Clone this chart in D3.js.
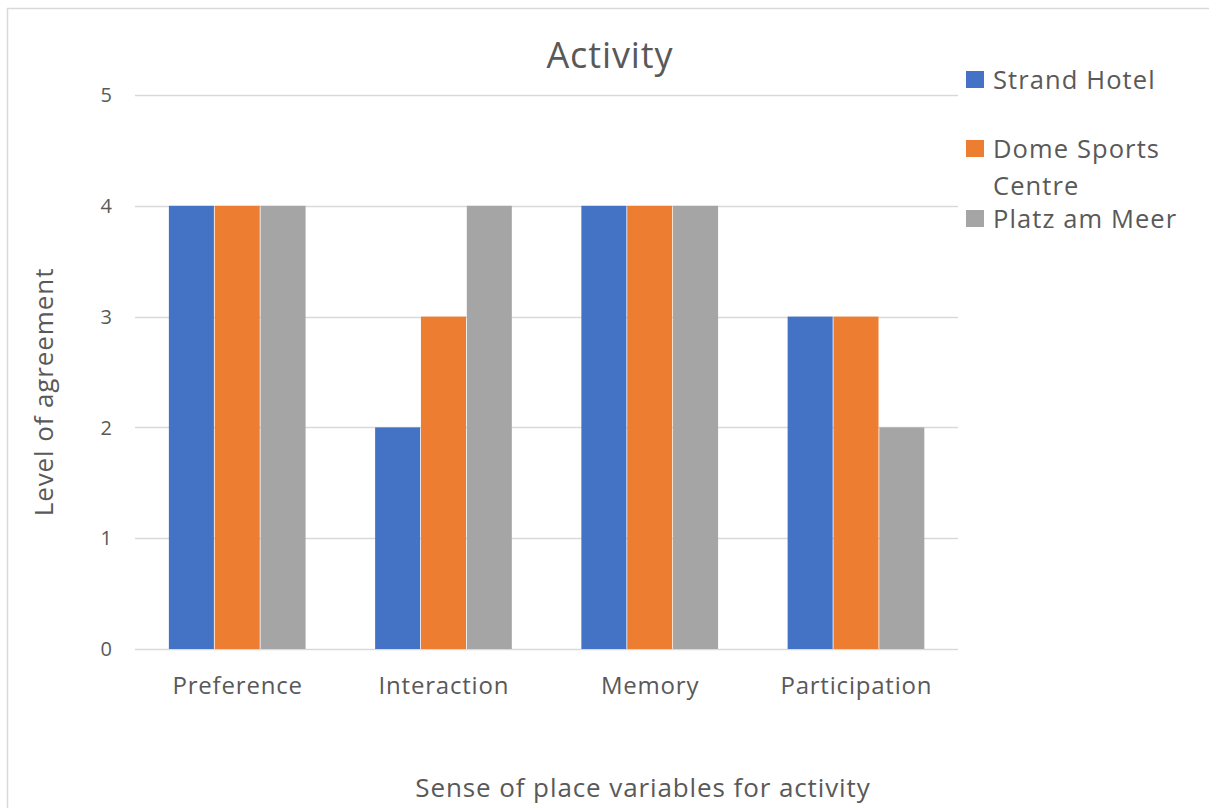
<!DOCTYPE html>
<html>
<head>
<meta charset="utf-8">
<script src="https://cdn.jsdelivr.net/npm/d3@7"></script>
<style>
  html, body { margin: 0; padding: 0; background: #fff; }
  svg { display: block; font-family: "Open Sans", "Noto Sans", sans-serif; }
</style>
</head>
<body>
<svg id="chart" width="1209" height="808"></svg>
<script>
// Survey results: level of agreement per sense-of-place variable
const categories = ["Preference", "Interaction", "Memory", "Participation"];
const seriesNames = ["Strand Hotel", "Dome Sports Centre", "Platz am Meer"];
const strandHotel = [4, 2, 4, 3];
const domeSportsCentre = [4, 3, 4, 3];
const platzAmMeer = [4, 4, 4, 2];
const yTicks = [0, 1, 2, 3, 4, 5];
const colors = ["#4472c4", "#ed7d31", "#a5a5a5"];

const seriesValues = [strandHotel, domeSportsCentre, platzAmMeer];

const svg = d3.select("#chart");
const textColor = "#595959";

// outer chart frame
svg.append("rect")
  .attr("x", 7.5).attr("y", 8.5)
  .attr("width", 1220).attr("height", 820)
  .attr("fill", "#fff").attr("stroke", "#d9d9d9").attr("stroke-width", 1.5);

const plot = { left: 134.5, right: 959.5, top: 95, bottom: 649 };

const x0 = d3.scaleBand().domain(categories).range([plot.left, plot.right]).paddingInner(0).paddingOuter(0);
const groupInner = x0.bandwidth() * 3 / 4.5; // bars occupy 3 widths, gap 1.5 widths
const x1 = d3.scaleBand().domain(d3.range(seriesNames.length)).range([0, groupInner]);
const y = d3.scaleLinear().domain([0, 5]).range([plot.bottom, plot.top]);

// gridlines
svg.append("g").selectAll("line").data(yTicks).join("line")
  .attr("x1", 135).attr("x2", 958)
  .attr("y1", d => Math.round(y(d)) + 0.5).attr("y2", d => Math.round(y(d)) + 0.5)
  .attr("stroke", "#d9d9d9").attr("stroke-width", 1.3);

// y tick labels
svg.append("g").selectAll("text").data(yTicks).join("text")
  .attr("x", 112).attr("y", d => y(d))
  .attr("dy", "0.36em")
  .attr("text-anchor", "end")
  .attr("font-size", 20).attr("fill", textColor)
  .text(d => d);

// bars
const groups = svg.append("g").selectAll("g").data(categories).join("g")
  .attr("transform", c => `translate(${x0(c) + (x0.bandwidth() - groupInner) / 2},0)`);

groups.selectAll("rect")
  .data((c, ci) => seriesValues.map((vals, si) => ({ si, v: vals[ci] })))
  .join("rect")
  .attr("x", d => x1(d.si))
  .attr("width", x1.bandwidth() - 0.8)
  .attr("y", d => y(d.v))
  .attr("height", d => y(0) - y(d.v))
  .attr("fill", d => colors[d.si]);

// category labels
svg.append("g").selectAll("text").data(categories).join("text")
  .attr("x", c => x0(c) + x0.bandwidth() / 2)
  .attr("y", 694)
  .attr("text-anchor", "middle")
  .attr("font-size", 24).attr("letter-spacing", 0.8).attr("fill", textColor)
  .text(c => c);

// title
svg.append("text")
  .attr("x", 610).attr("y", 68)
  .attr("text-anchor", "middle")
  .attr("font-size", 36).attr("letter-spacing", 0.9).attr("fill", textColor)
  .text("Activity");

// axis titles
svg.append("text")
  .attr("transform", "translate(53,392) rotate(-90)")
  .attr("text-anchor", "middle")
  .attr("font-size", 26).attr("letter-spacing", 0.9).attr("fill", textColor)
  .text("Level of agreement");

svg.append("text")
  .attr("x", 643).attr("y", 797)
  .attr("text-anchor", "middle")
  .attr("font-size", 26).attr("letter-spacing", 0.9).attr("fill", textColor)
  .text("Sense of place variables for activity");

// legend
const legendRows = [
  { lines: [["Strand Hotel", 89]], top: 71 },
  { lines: [["Dome Sports", 158], ["Centre", 195]], top: 140 },
  { lines: [["Platz am Meer", 228]], top: 210 }
];
const legend = svg.append("g");
legendRows.forEach((row, i) => {
  legend.append("rect")
    .attr("x", 966).attr("y", row.top)
    .attr("width", 18).attr("height", 17)
    .attr("fill", colors[i]);
  row.lines.forEach(([ln, base]) => {
    legend.append("text")
      .attr("x", 993).attr("y", base)
      .attr("font-size", 25.5).attr("letter-spacing", 1.1).attr("fill", textColor)
      .text(ln);
  });
});
</script>
</body>
</html>
